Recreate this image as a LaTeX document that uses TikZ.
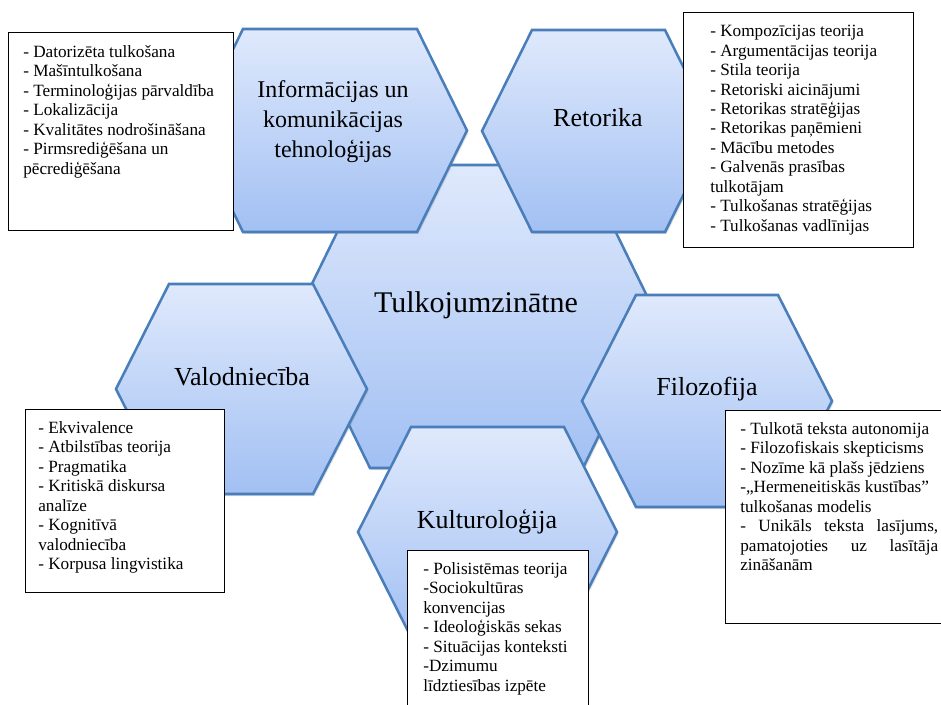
\documentclass[tikz,border=0pt]{standalone}
\usepackage{fontspec}
\setmainfont{Liberation Serif}
\usetikzlibrary{shadows,fit}

\definecolor{hexline}{RGB}{74,126,187}
\definecolor{hextop}{RGB}{223,233,252}
\definecolor{hexbottom}{RGB}{162,192,243}

\tikzset{
  hexa/.style={draw=hexline, line width=1.9pt, top color=hextop, bottom color=hexbottom,
    drop shadow={opacity=0.25, shadow xshift=1.2pt, shadow yshift=-1.5pt}},
  hexlabel/.style={font=\fontsize{19.5}{22.5}\selectfont, inner sep=0pt},
  listbox/.style={draw=black, line width=0.7pt, fill=white, inner sep=0pt},
  listtext/.style={font=\fontsize{12.9}{14.6}\selectfont, align=left, anchor=north west, inner sep=0pt}
}

\begin{document}
\begin{tikzpicture}[x=0.75pt,y=-0.75pt]
    \useasboundingbox (0,0) rectangle (941,705);

% hexagons, the middle one first
\draw[hexa] (296,316.5) -- (370,165) -- (583,165) -- (657,316.5) -- (583,468) -- (370,468) -- cycle;
\draw[hexa] (193,130.5) -- (243,29) -- (417,29) -- (467,130.5) -- (417,232) -- (243,232) -- cycle;
\draw[hexa] (482,131) -- (532,30) -- (665,30) -- (715,131) -- (665,232) -- (532,232) -- cycle;
\draw[hexa] (116,389) -- (169,284) -- (313,284) -- (367,389) -- (313,494) -- (169,494) -- cycle;
\draw[hexa] (582,401) -- (636,295) -- (778,295) -- (832,401) -- (778,507) -- (636,507) -- cycle;
\draw[hexa] (358,532) -- (411,427) -- (564,427) -- (617,532) -- (564,637) -- (411,637) -- cycle;

\node[hexlabel, font=\fontsize{22.5}{27}\selectfont, anchor=base] (tulk) at (476,313) {Tulkojumzinātne};
\node[hexlabel, font=\fontsize{18}{22.5}\selectfont, align=center] (ikt) at (333,122) {Informācijas un\\komunikācijas\\tehnoloģijas};
\node[hexlabel, anchor=base] (ret) at (598,127) {Retorika};
\node[hexlabel, anchor=base] (val) at (242,385) {Valodniecība};
\node[hexlabel, anchor=base] (fil) at (707,395) {Filozofija};
\node[hexlabel, anchor=base] (kul) at (487,528) {Kulturoloģija};

% lists
\node[listbox, fit={(8,32) (233,230)}] (iktbox) {};
\node[listtext] (ikttext) at (23,45) {- Datorizēta tulkošana\\- Mašīntulkošana\\- Terminoloģijas pārvaldība\\- Lokalizācija\\- Kvalitātes nodrošināšana\\- Pirmsrediģēšana un\\pēcrediģēšana};

\node[listbox, fit={(683,12) (913,247)}] (retbox) {};
\node[listtext] (rettext) at (710,25) {- Kompozīcijas teorija\\- Argumentācijas teorija\\- Stila teorija\\- Retoriski aicinājumi\\- Retorikas stratēģijas\\- Retorikas paņēmieni\\- Mācību metodes\\- Galvenās prasības\\tulkotājam\\- Tulkošanas stratēģijas\\- Tulkošanas vadlīnijas};

\node[listbox, fit={(25,409) (224,592)}] (valbox) {};
\node[listtext] (valtext) at (38,421) {- Ekvivalence\\- Atbilstības teorija\\- Pragmatika\\- Kritiskā diskursa\\analīze\\- Kognitīvā\\valodniecība\\- Korpusa lingvistika};

\node[listbox, fit={(725,410) (950,623)}] (filbox) {};
\node[listtext] (filtext) at (740,422) {- Tulkotā teksta autonomija\\- Filozofiskais skepticisms\\- Nozīme kā plašs jēdziens\\-„Hermeneitiskās kustības”\\tulkošanas modelis\\\makebox[148.5pt][s]{- Unikāls teksta lasījums,}\\\makebox[148.5pt][s]{pamatojoties uz lasītāja}\\zināšanām};

\node[listbox, fit={(407,550) (588,715)}] (kulbox) {};
\node[listtext] (kultext) at (423,562) {- Polisistēmas teorija\\-Sociokultūras\\konvencijas\\- Ideoloģiskās sekas\\- Situācijas konteksti\\-Dzimumu\\līdztiesības izpēte};

\end{tikzpicture}
\end{document}
